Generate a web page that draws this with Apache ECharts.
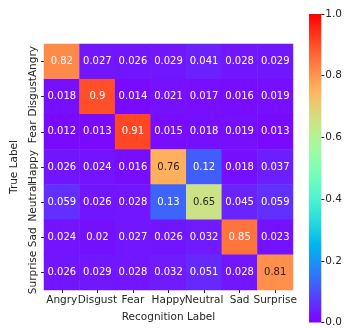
<!DOCTYPE html>
<html>
<head>
<meta charset="utf-8">
<script src="https://cdn.jsdelivr.net/npm/echarts@6/dist/echarts.min.js"></script>
<style>
  html, body { margin: 0; padding: 0; background: #fff; }
  #chart { width: 345px; height: 328px; }
</style>
</head>
<body>
<div id="chart"></div>
<script>
const recogLabels = ['Angry', 'Disgust', 'Fear', 'Happy', 'Neutral', 'Sad', 'Surprise']
const trueLabels = ['Angry', 'Disgust', 'Fear', 'Happy', 'Neutral', 'Sad', 'Surprise']
// rows = true label, columns = recognition label
const matrix = [
  [0.82, 0.027, 0.026, 0.029, 0.041, 0.028, 0.029],
  [0.018, 0.9, 0.014, 0.021, 0.017, 0.016, 0.019],
  [0.012, 0.013, 0.91, 0.015, 0.018, 0.019, 0.013],
  [0.026, 0.024, 0.016, 0.76, 0.12, 0.018, 0.037],
  [0.059, 0.026, 0.028, 0.13, 0.65, 0.045, 0.059],
  [0.024, 0.02, 0.027, 0.026, 0.032, 0.85, 0.023],
  [0.026, 0.029, 0.028, 0.032, 0.051, 0.028, 0.81]
]

// matplotlib "rainbow" colormap
function rainbow(x) {
  let r = Math.min(1, Math.abs(2 * x - 0.5))
  let g = Math.sin(Math.PI * x)
  let b = Math.cos(Math.PI * x / 2)
  return [r, g, b]
}
function toHex(c) {
  return '#' + c.map(v => Math.round(Math.max(0, Math.min(1, v)) * 255).toString(16).padStart(2, '0')).join('')
}
function lum(c) {
  const lin = c.map(v => v <= 0.03928 ? v / 12.92 : Math.pow((v + 0.055) / 1.055, 2.4))
  return 0.2126 * lin[0] + 0.7152 * lin[1] + 0.0722 * lin[2]
}

const stops = []
for (let i = 0; i <= 20; i++) stops.push(toHex(rainbow(i / 20)))

const cells = []
matrix.forEach((row, i) => {
  row.forEach((v, j) => {
    const dark = lum(rainbow(v)) > 0.408
    cells.push({
      value: [j, i, v],
      itemStyle: { color: toHex(rainbow(v)) },
      label: { color: dark ? '#262626' : '#ffffff' }
    })
  })
})

const gradStops = stops.map((c, i) => ({ offset: 1 - i / 20, color: c }))

const chart = echarts.init(document.getElementById('chart'))
const txt = '#262626'
chart.setOption({
  animation: false,
  textStyle: { fontFamily: 'DejaVu Sans' },
  grid: [
    { left: 44, top: 44, width: 249, height: 249 },
    { left: 309, top: 14, width: 15, height: 310 }
  ],
  xAxis: [
    {
      type: 'category', data: recogLabels, gridIndex: 0,
      name: 'Recognition Label', nameLocation: 'middle', nameGap: 22,
      nameTextStyle: { color: txt, fontSize: 10.5 },
      axisLine: { show: false },
      axisTick: { show: true, alignWithLabel: true, interval: 0, length: 3, lineStyle: { color: txt } },
      axisLabel: { color: txt, fontSize: 10.5, margin: 5, interval: 0, hideOverlap: false },
      splitLine: { show: false }
    },
    {
      type: 'category', data: ['bar'], gridIndex: 1,
      axisLine: { show: false }, axisTick: { show: false }, axisLabel: { show: false }
    }
  ],
  yAxis: [
    {
      type: 'category', data: trueLabels, inverse: true, gridIndex: 0,
      name: 'True Label', nameLocation: 'middle', nameGap: 23, nameRotate: 90,
      nameTextStyle: { color: txt, fontSize: 10.5 },
      axisLine: { show: false },
      axisTick: { show: true, alignWithLabel: true, interval: 0, length: 3, lineStyle: { color: txt } },
      axisLabel: { color: txt, fontSize: 10.5, rotate: 90, margin: 5, interval: 0, hideOverlap: false, align: 'center', verticalAlign: 'bottom' },
      splitLine: { show: false }
    },
    {
      type: 'value', min: 0, max: 1, interval: 0.2, gridIndex: 1, position: 'right',
      axisLine: { show: false },
      axisTick: { show: true, length: 3, lineStyle: { color: txt } },
      axisLabel: { color: txt, fontSize: 10.5, margin: 4, formatter: v => v.toFixed(1) },
      splitLine: { show: false }
    }
  ],
  series: [
    {
      type: 'heatmap', xAxisIndex: 0, yAxisIndex: 0,
      data: cells,
      label: { show: true, fontSize: 10, formatter: p => String(p.value[2]) },
      emphasis: { disabled: true }
    },
    {
      type: 'bar', xAxisIndex: 1, yAxisIndex: 1,
      data: [1], barWidth: '100%', silent: true,
      itemStyle: {
        color: new echarts.graphic.LinearGradient(0, 0, 0, 1, gradStops)
      }
    }
  ]
})
</script>
</body>
</html>
